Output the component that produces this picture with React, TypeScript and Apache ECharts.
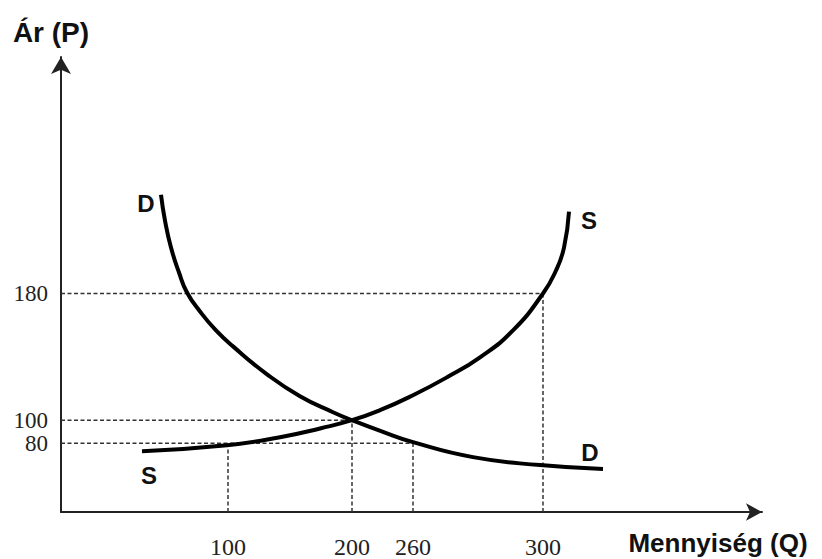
import React, { useEffect, useRef } from "react";
import * as echarts from "echarts";

// Schematic (not-to-scale) positions along the drawn axes.
const qTickLabels = ["100", "200", "260", "300"];
const qTickAt = [167, 291, 352, 482];
const pTickLabels = ["80", "100", "180"];
const pTickAt = [69, 92, 219];

// how far each guide line reaches
const vGuideTop = [66, 92, 69, 219]; // vertical guide from each Q tick up to this P position
const hGuideEnd = [352, 291, 482]; // horizontal guide from each P tick out to this Q position

// Demand curve D (Q position, P position)
const demandQ = [100, 104, 110, 118, 126, 139, 155, 172, 206, 239, 272, 291, 320, 352, 412, 479, 542];
const demandP = [318, 292, 265, 240, 220, 201, 182, 166, 138, 116, 100, 92, 81, 70, 55, 47, 43];

// Supply curve S
const supplyQ = [81, 166, 219, 260, 291, 319, 352, 386, 419, 452, 482, 495, 503, 508];
const supplyP = [61, 67, 75, 84, 92, 102, 117, 135, 155, 182, 219, 242, 265, 301];

const X_MAX = 701;
const Y_MAX = 456;

export default function App() {
  const ref = useRef<HTMLDivElement>(null);

  useEffect(() => {
    if (!ref.current) return;
    const chart = echarts.init(ref.current, null, { renderer: "svg" });

    const dashStyle = { color: "#333", width: 1.5, type: [4, 2.5] as number[] };

    const guideSeries: any[] = [];
    qTickAt.forEach((q, i) => {
      guideSeries.push({
        type: "line",
        data: [
          [q, 0],
          [q, vGuideTop[i]],
        ],
        symbol: "none",
        silent: true,
        lineStyle: dashStyle,
        z: 1,
      });
    });
    pTickAt.forEach((p, i) => {
      guideSeries.push({
        type: "line",
        data: [
          [0, p],
          [hGuideEnd[i], p],
        ],
        symbol: "none",
        silent: true,
        lineStyle: dashStyle,
        z: 1,
      });
    });

    const sansBold = { fontFamily: "Liberation Sans, Arial, sans-serif", fontWeight: "bold", fill: "#111", align: "center", verticalAlign: "middle" };
    const serif = { fontFamily: "Liberation Serif, Times New Roman, serif", fontSize: 23, lineHeight: 21, fill: "#222" };

    chart.setOption({
      animation: false,
      backgroundColor: "#fff",
      grid: { left: 61, top: 57, right: 60, bottom: 46, containLabel: false },
      xAxis: {
        type: "value",
        min: 0,
        max: X_MAX,
        splitLine: { show: false },
        axisTick: { show: false },
        axisLine: {
          show: true,
          onZero: false,
          symbol: ["none", "arrow"],
          symbolSize: [13, 16],
          lineStyle: { color: "#222", width: 2 },
        },
        axisLabel: {
          customValues: qTickAt,
          hideOverlap: false,
          margin: 23,
          fontFamily: "Liberation Serif, Times New Roman, serif",
          fontSize: 24,
          color: "#222",
          formatter: (v: number) => {
            const i = qTickAt.indexOf(v);
            return i >= 0 ? qTickLabels[i] : "";
          },
        },
      },
      yAxis: {
        type: "value",
        min: 0,
        max: Y_MAX,
        splitLine: { show: false },
        axisTick: { show: false },
        axisLine: {
          show: true,
          onZero: false,
          symbol: ["none", "arrow"],
          symbolSize: [15, 17],
          lineStyle: { color: "#222", width: 2 },
        },
        axisLabel: { show: false },
      },
      series: [
        ...guideSeries,
        {
          name: "D",
          type: "line",
          smooth: true,
          symbol: "none",
          data: demandQ.map((q, i) => [q, demandP[i]]),
          lineStyle: { color: "#000", width: 4 },
          z: 3,
        },
        {
          name: "S",
          type: "line",
          smooth: true,
          symbol: "none",
          data: supplyQ.map((q, i) => [q, supplyP[i]]),
          lineStyle: { color: "#000", width: 4 },
          z: 3,
        },
      ],
    });

    // P tick labels placed through the y scale of the grid
    const pLabels = pTickAt.map((p, i) => {
      const pt = chart.convertToPixel({ gridIndex: 0 }, [0, p]) as number[];
      return {
        type: "text",
        x: pt[0] - 13,
        y: pt[1],
        style: { ...serif, text: pTickLabels[i], align: "right", verticalAlign: "middle" },
      };
    });

    chart.setOption({
      graphic: [
        { type: "text", x: 51, y: 32, style: { ...sansBold, text: "Ár (P)", fontSize: 28 } },
        { type: "text", x: 718, y: 543, style: { ...sansBold, text: "Mennyiség (Q)", fontSize: 26 } },
        { type: "text", x: 146, y: 203, style: { ...sansBold, text: "D", fontSize: 24 } },
        { type: "text", x: 590, y: 452, style: { ...sansBold, text: "D", fontSize: 24 } },
        { type: "text", x: 589, y: 220, style: { ...sansBold, text: "S", fontSize: 24 } },
        { type: "text", x: 149, y: 475, style: { ...sansBold, text: "S", fontSize: 24 } },
        ...pLabels,
      ],
    });

    return () => chart.dispose();
  }, []);

  return (
    <div
      ref={ref}
      style={{ position: "fixed", left: 0, top: 0, width: 822, height: 559, background: "#fff" }}
    />
  );
}
